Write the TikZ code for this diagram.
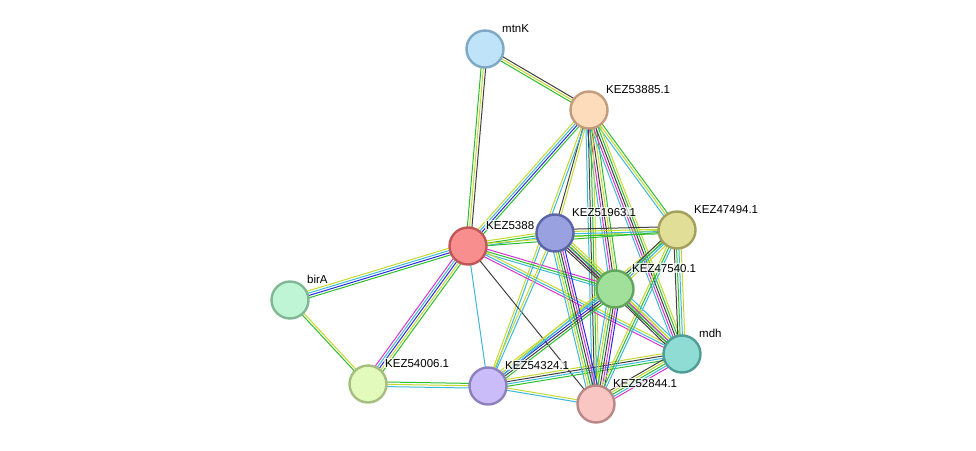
\documentclass[tikz,border=0pt]{standalone}
\usepackage{fontspec}
\setmainfont{Liberation Sans}
\usetikzlibrary{calc}
\definecolor{cg}{HTML}{2DBE2D}\definecolor{cy}{HTML}{C6D92E}\definecolor{ck}{HTML}{404040}
\definecolor{cb}{HTML}{2A2AE0}\definecolor{cm}{HTML}{D632D6}\definecolor{cc}{HTML}{3CB8D8}
\newcommand{\pedge}[3]{%
 \foreach[count=\i] \c in {#3}{\xdef\nn{\i}}%
 \foreach[count=\i] \c in {#3}{%
  \pgfmathsetmacro\off{(\i-(\nn+1)/2)*2.3}%
  \draw[line width=1pt,draw=\c] ($(#1)!\off pt!90:(#2)$) -- ($(#2)!\off pt!-90:(#1)$);}}
\begin{document}
\begin{tikzpicture}[x=1pt,y=-1pt,pn/.style={circle,minimum size=37pt,inner sep=0,line width=2.4pt},
 lb/.style={anchor=base west,font=\fontsize{11.5}{12}\selectfont,inner sep=1pt,fill=white,fill opacity=0.7,text opacity=1}]
\useasboundingbox (0,0) rectangle (976,450);
\coordinate (mtnK) at (485,49);
\coordinate (k885) at (589,110);
\coordinate (k888) at (468,246);
\coordinate (k963) at (555,233);
\coordinate (k494) at (677,230);
\coordinate (k540) at (615,289);
\coordinate (birA) at (290,300);
\coordinate (mdh) at (682,354);
\coordinate (k006) at (368,384);
\coordinate (k324) at (488,386);
\coordinate (k844) at (596,404);
\pedge{mtnK}{k885}{cg,cy,ck}
\pedge{mtnK}{k888}{cg,cy,ck}
\pedge{k885}{k888}{cy,cc,cb,cg}
\pedge{k885}{k963}{ck,cy}
\pedge{k885}{k494}{cc,cy,cg}
\pedge{k885}{k540}{cc,cm,ck,cy,cg}
\pedge{k885}{mdh}{cc,cm,ck,cg,cy}
\pedge{k885}{k844}{cc,ck,cg,cy}
\pedge{k885}{k324}{cy,cc}
\pedge{k888}{birA}{cy,cc,cb,cg}
\pedge{k888}{k006}{cm,cc,cb,cy,cg}
\pedge{k888}{k963}{cc,cg,cy}
\pedge{k888}{k494}{cg,cy}
\pedge{k888}{k540}{cc,cg,cm}
\pedge{k888}{mdh}{cm,cc,cy}
\pedge{k888}{k324}{cc}
\pedge{k888}{k844}{ck}
\pedge{birA}{k006}{cg,cy}
\pedge{k006}{k324}{cc,cy,cg}
\pedge{k324}{k844}{cc,cy}
\pedge{k324}{mdh}{cg,cc,ck,cy}
\pedge{k324}{k963}{cc,cy}
\pedge{k324}{k540}{cg,ck,cb,cc,cy}
\pedge{k324}{k494}{cc,cy}
\pedge{k844}{mdh}{cm,cc,cg,cy,ck}
\pedge{k844}{k540}{cb,cm,ck,cg,cy,cc}
\pedge{k844}{k963}{cb,cm,ck,cg,cy,cc}
\pedge{k844}{k494}{cc,cg,cy}
\pedge{k963}{k494}{cg,cc,cy,ck}
\pedge{k963}{k540}{ck,cm,cb,cg,cy}
\pedge{k963}{mdh}{ck,cg,cy}
\pedge{k494}{k540}{ck,cg,cc,cy}
\pedge{k494}{mdh}{ck,cg,cc,cy}
\pedge{k540}{mdh}{ck,cg,cm,cy,cc}
\node[lb] (lmtnK) at ($(mtnK)+(16,-17)$) {mtnK};
\node[lb] (l885) at ($(k885)+(16,-17)$) {KEZ53885.1};
\node[lb] (l888) at ($(k888)+(17,-17)$) {KEZ5388};
\node[lb] (l963) at ($(k963)+(16,-17)$) {KEZ51963.1};
\node[lb] (l494) at ($(k494)+(16,-17)$) {KEZ47494.1};
\node[lb] (l540) at ($(k540)+(16,-17)$) {KEZ47540.1};
\node[lb] (lbirA) at ($(birA)+(16,-17)$) {birA};
\node[lb] (lmdh) at ($(mdh)+(16,-17)$) {mdh};
\node[lb] (l006) at ($(k006)+(16,-17)$) {KEZ54006.1};
\node[lb] (l324) at ($(k324)+(16,-17)$) {KEZ54324.1};
\node[lb] (l844) at ($(k844)+(16,-17)$) {KEZ52844.1};
\node[pn,fill={rgb,255:red,191;green,227;blue,248},draw={rgb,255:red,126;green,168;blue,198}] (NmtnK) at (mtnK) {};
\node[pn,fill={rgb,255:red,253;green,220;blue,188},draw={rgb,255:red,194;green,156;blue,124}] (N885) at (k885) {};
\node[pn,fill={rgb,255:red,249;green,142;blue,142},draw={rgb,255:red,193;green,86;blue,86}] (N888) at (k888) {};
\node[pn,fill={rgb,255:red,154;green,161;blue,224},draw={rgb,255:red,92;green,100;blue,168}] (N963) at (k963) {};
\node[pn,fill={rgb,255:red,224;green,222;blue,151},draw={rgb,255:red,163;green,160;blue,93}] (N494) at (k494) {};
\node[pn,fill={rgb,255:red,161;green,224;blue,154},draw={rgb,255:red,98;green,165;blue,92}] (N540) at (k540) {};
\node[pn,fill={rgb,255:red,191;green,245;blue,212},draw={rgb,255:red,128;green,184;blue,150}] (NbirA) at (birA) {};
\node[pn,fill={rgb,255:red,143;green,220;blue,212},draw={rgb,255:red,79;green,157;blue,150}] (Nmdh) at (mdh) {};
\node[pn,fill={rgb,255:red,226;green,251;blue,189},draw={rgb,255:red,166;green,189;blue,128}] (N006) at (k006) {};
\node[pn,fill={rgb,255:red,202;green,188;blue,248},draw={rgb,255:red,142;green,128;blue,191}] (N324) at (k324) {};
\node[pn,fill={rgb,255:red,249;green,198;blue,196},draw={rgb,255:red,185;green,136;blue,134}] (N844) at (k844) {};
\end{tikzpicture}
\end{document}
